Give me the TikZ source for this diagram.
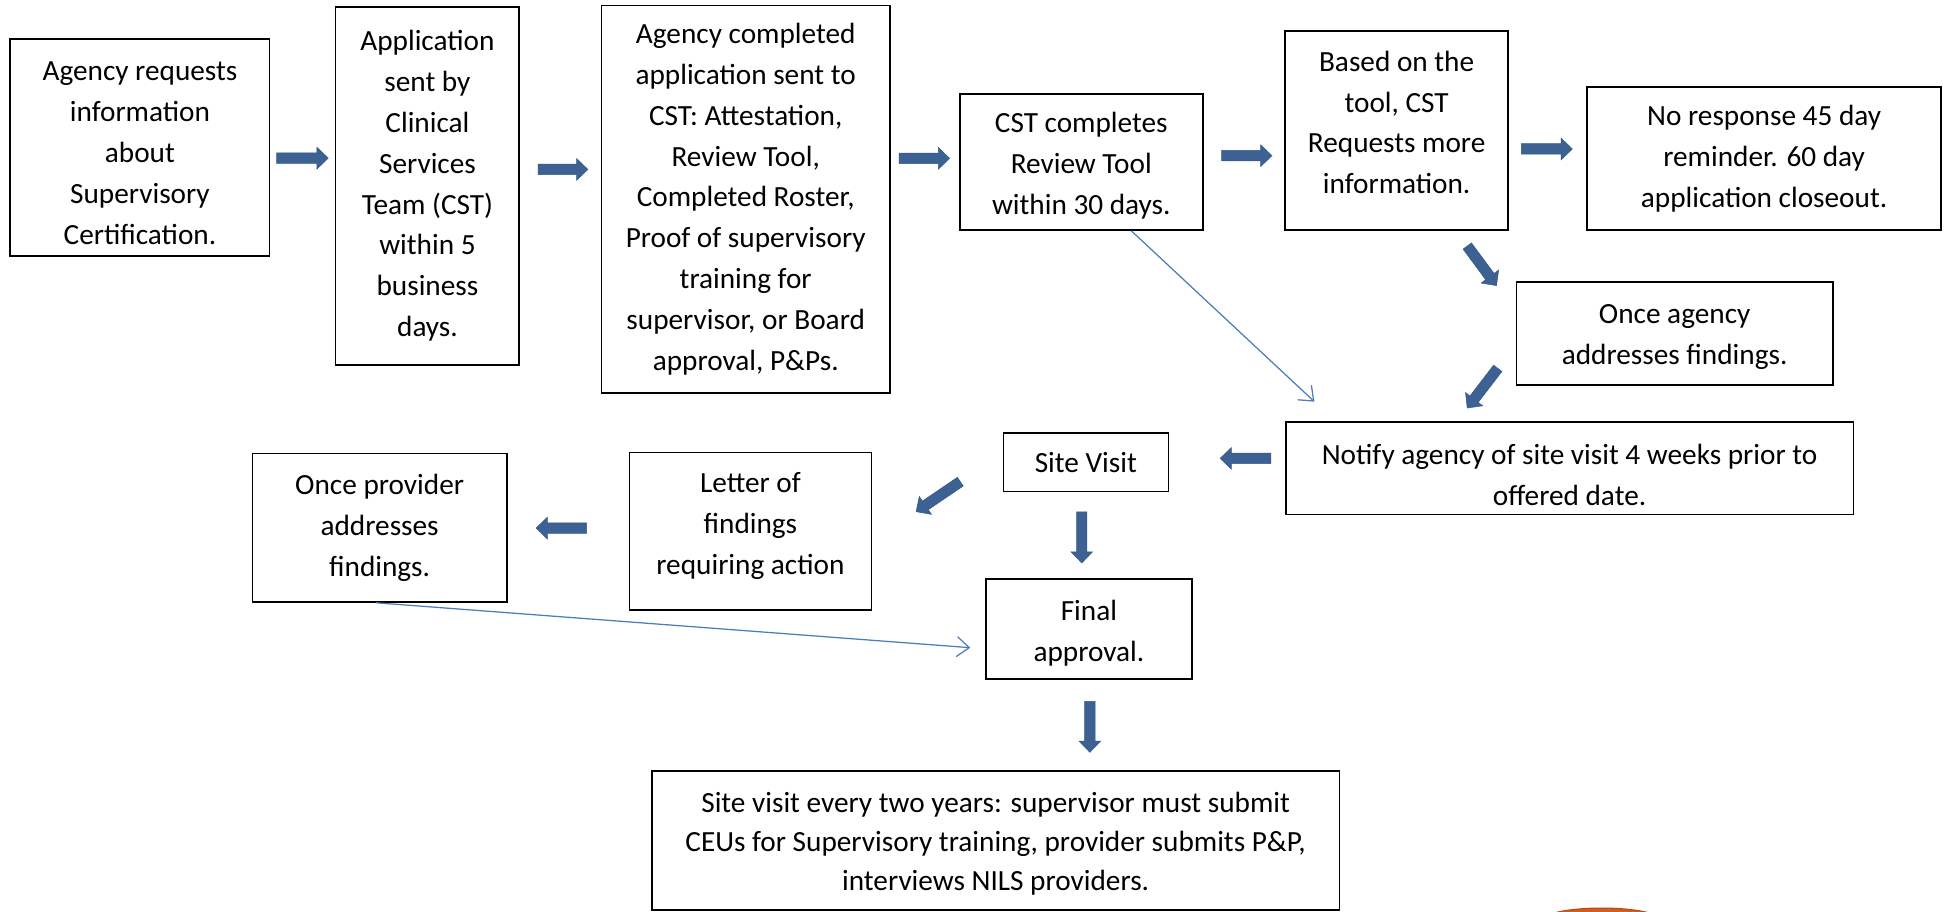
\documentclass[tikz,border=0pt]{standalone}
\usepackage{fontspec}
\setmainfont{Carlito}
\usetikzlibrary{calc,arrows.meta}
\definecolor{arrowfill}{HTML}{3C6192}
\definecolor{arrowedge}{HTML}{365A88}
\definecolor{thinblue}{HTML}{4A7EBB}
\definecolor{blobc}{HTML}{D0601F}
\definecolor{blobedge}{HTML}{B8431A}
% invisible struts to fine-tune vertical text placement
\newcommand\txtdrop[1]{\rule{0pt}{#1}}
\newcommand\txtlift[1]{\rule[-#1]{0pt}{#1}}
\newcommand\blkarrow[2]{%
  \path ($(#2)!9pt!(#1)$) coordinate (ba-c);
  \filldraw[blkarrowstyle] ($(#1)!4.2pt!90:(#2)$) -- ($(ba-c)!4.2pt!90:(#2)$) -- ($(ba-c)!8.7pt!90:(#2)$) -- (#2) -- ($(ba-c)!8.7pt!-90:(#2)$) -- ($(ba-c)!4.2pt!-90:(#2)$) -- ($(#1)!4.2pt!-90:(#2)$) -- cycle;}
\begin{document}
\begin{tikzpicture}[x=1pt,y=-1pt,
  procbox/.style={draw=black, line width=1.3pt, align=center, inner sep=0pt,
    font=\fontsize{23.5}{32.8}\selectfont},
  blkarrowstyle/.style={fill=arrowfill, draw=arrowedge, line width=0.4pt, line join=miter},
  thinconn/.style={draw=thinblue, line width=1pt, -{Straight Barb[length=10pt,width=16pt]}}]
\useasboundingbox (0,0) rectangle (1568,732);
\fill[white] (0,0) rectangle (1568,732);

% boxes
\node[procbox, minimum width=208.3pt, minimum height=174pt] (b1) at (112.35,118.3)
  {\txtdrop{24.5pt}Agency requests\\information\\about\\Supervisory\\Certification.};
\node[procbox, minimum width=147.4pt, minimum height=287.6pt] (b2) at (343.2,149.2)
  {Application\\sent by\\Clinical\\Services\\Team (CST)\\within 5\\business\\days.};
\node[procbox, minimum width=231.8pt, minimum height=310.8pt] (b3) at (598.7,159.9)
  {Agency completed\\application sent to\\CST: Attestation,\\Review Tool,\\Completed Roster,\\Proof of supervisory\\training for\\supervisor, or Board\\approval, P\&Ps.};
\node[procbox, minimum width=195pt, minimum height=109.2pt] (b4) at (868.1,130.1)
  {\txtdrop{22.5pt}CST completes\\Review Tool\\within 30 days.};
\node[procbox, minimum width=179pt, minimum height=159.8pt] (b5) at (1121.3,104.8)
  {Based on the\\tool, CST\\Requests more\\information.\txtlift{13.2pt}};
\node[procbox, minimum width=284.1pt, minimum height=115.1pt] (b6) at (1416.35,127.15)
  {No response 45 day\\reminder. 60 day\\application closeout.};
\node[procbox, minimum width=253.8pt, minimum height=82.9pt] (b7) at (1344.5,267.65)
  {\txtdrop{21.5pt}Once agency\\addresses findings.};
\node[procbox, minimum width=455.7pt, minimum height=74pt] (b8) at (1260.15,376)
  {\txtdrop{26.5pt}Notify agency of site visit 4 weeks prior to\\offered date.};
\node[procbox, minimum width=132.4pt, minimum height=47.3pt] (b9) at (871.8,371.05)
  {Site Visit};
\node[procbox, minimum width=194.4pt, minimum height=126.6pt] (b10) at (602.5,426.5)
  {Letter of\\findings\\requiring action\txtlift{12.8pt}};
\node[procbox, minimum width=204pt, minimum height=119.3pt] (b11) at (304.8,423.65)
  {Once provider\\addresses\\findings.};
\node[procbox, minimum width=165.5pt, minimum height=80pt] (b12) at (874.25,505)
  {\txtdrop{23.5pt}Final\\approval.};
\node[procbox, minimum width=552.1pt, minimum height=111.8pt,
  font=\fontsize{23.5}{31}\selectfont] (b13) at (799.35,674.7)
  {\txtdrop{21.5pt}Site visit every two years: supervisor must submit\\CEUs for Supervisory training, provider submits P\&P,\\interviews NILS providers.};

% block arrow end points
\coordinate (a1s) at (222,127);     \coordinate (a1e) at (263.5,127);
\coordinate (a2s) at (432,136);     \coordinate (a2e) at (472,136);
\coordinate (a3s) at (721.8,127.1); \coordinate (a3e) at (762.4,127.1);
\coordinate (a4s) at (980.7,125);   \coordinate (a4e) at (1021.2,125);
\coordinate (a5s) at (1221.5,119.6);\coordinate (a5e) at (1262.4,119.6);
\coordinate (a6s) at (1178,197.5);  \coordinate (a6e) at (1201.5,229.3);
\coordinate (a7s) at (1202.5,295.7);\coordinate (a7e) at (1178,327.6);
\coordinate (a8s) at (1020.4,368);  \coordinate (a8e) at (979.6,368);
\coordinate (a9s) at (771,386.7);   \coordinate (a9e) at (735.5,410.8);
\coordinate (a10s) at (471,424);    \coordinate (a10e) at (430.4,424);
\coordinate (a11s) at (868.5,411);  \coordinate (a11e) at (868.5,452);
\coordinate (a12s) at (875,563);    \coordinate (a12e) at (875,604);

\blkarrow{a1s}{a1e}
\blkarrow{a2s}{a2e}
\blkarrow{a3s}{a3e}
\blkarrow{a4s}{a4e}
\blkarrow{a5s}{a5e}
\blkarrow{a6s}{a6e}
\blkarrow{a7s}{a7e}
\blkarrow{a8s}{a8e}
\blkarrow{a9s}{a9e}
\blkarrow{a10s}{a10e}
\blkarrow{a11s}{a11e}
\blkarrow{a12s}{a12e}

% thin connectors
\coordinate (t1) at (1055.3,322.5);
\coordinate (t2) at (779,520);
\draw[thinconn] ($(b4.south west)!0.705!(b4.south east)$) -- (t1);
\draw[thinconn] ($(b11.south west)!0.486!(b11.south east)$) -- (t2);

% partial orange shape at the bottom edge
\begin{scope}
  \clip (0,0) rectangle (1568,732);
  \filldraw[fill=blobc, draw=blobedge, line width=0.8pt] (1286,739) ellipse [x radius=48, y radius=10];
\end{scope}
\end{tikzpicture}
\end{document}
